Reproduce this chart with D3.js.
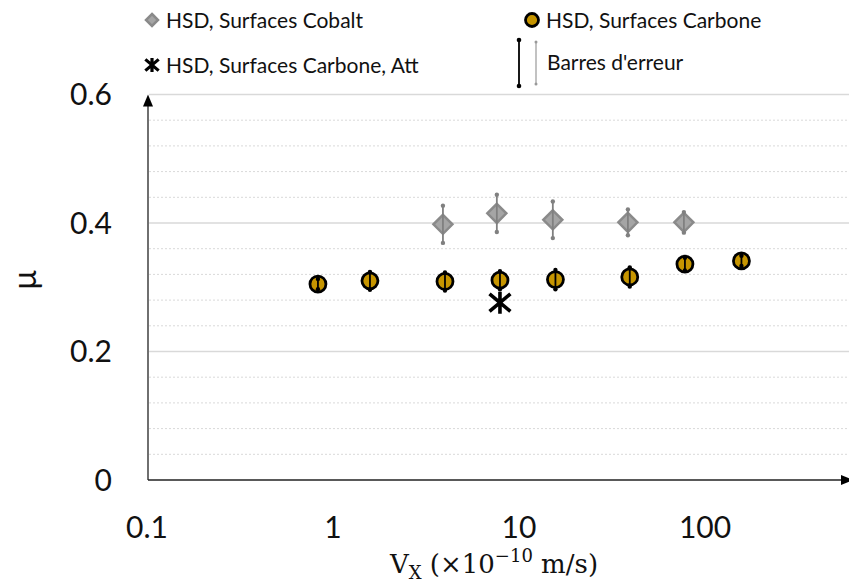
<!DOCTYPE html>
<html><head><meta charset="utf-8">
<script src="https://cdn.jsdelivr.net/npm/d3@7"></script>
<style>body{margin:0;background:#fff}svg{display:block}</style>
</head><body><svg id="c" width="849" height="585"></svg>
<script>
// ---- data ----
const carboneV   = [0.83, 1.58, 4.0, 7.9, 15.7, 39.4, 78, 157];
const carboneMu  = [0.305, 0.310, 0.309, 0.311, 0.312, 0.316, 0.336, 0.341];
const carboneErr = [0.008, 0.014, 0.014, 0.014, 0.015, 0.015, 0.010, 0.008];
const cobaltV    = [3.9, 7.6, 15.2, 38.5, 77];
const cobaltMu   = [0.398, 0.415, 0.405, 0.401, 0.401];
const cobaltErr  = [0.029, 0.029, 0.0285, 0.020, 0.016];
const attV  = [7.9];
const attMu = [0.276];
const xTickValues = [0.1, 1, 10, 100];
const xTickLabels = ["0.1", "1", "10", "100"];
const yTickValues = [0, 0.2, 0.4, 0.6];
const yTickLabels = ["0", "0.2", "0.4", "0.6"];
const yMinorValues = d3.range(0.04, 0.6, 0.04).filter(v => Math.abs(v/0.2 - Math.round(v/0.2)) > 1e-6);
const legendLabels = ["HSD, Surfaces Cobalt", "HSD, Surfaces Carbone", "HSD, Surfaces Carbone, Att", "Barres d'erreur"];

// ---- layout ----
const svg = d3.select("#c");
const x = d3.scaleLog().domain([0.1, 1000]).range([147, 891]);
const y = d3.scaleLinear().domain([0, 0.6]).range([480, 94.5]);
const font = "Lato, 'Open Sans', sans-serif";
const gold = "#c69500";

// gridlines
svg.append("g").selectAll("line").data(yMinorValues).join("line")
  .attr("x1", 149).attr("x2", 849).attr("y1", d => y(d)).attr("y2", d => y(d))
  .attr("stroke", "#d9d9d9").attr("stroke-width", 1).attr("stroke-dasharray", "2,2");
svg.append("g").selectAll("line").data(yTickValues.filter(d => d > 0)).join("line")
  .attr("x1", 149).attr("x2", 849).attr("y1", d => y(d)).attr("y2", d => y(d))
  .attr("stroke", "#d9d9d9").attr("stroke-width", 1.5);

// axes
const axisColor = "#222";
svg.append("line").attr("x1", 148).attr("x2", 148).attr("y1", y(0)).attr("y2", y(0.6) + 8)
  .attr("stroke", axisColor).attr("stroke-width", 1.3);
svg.append("path").attr("d", `M148,${y(0.6)} L143,${y(0.6)+12} L153,${y(0.6)+12} Z`).attr("fill", "#000");
svg.append("line").attr("x1", 148).attr("x2", 845).attr("y1", y(0)).attr("y2", y(0))
  .attr("stroke", axisColor).attr("stroke-width", 1.3);
svg.append("path").attr("d", `M853,${y(0)} L841,${y(0)-5} L841,${y(0)+5} Z`).attr("fill", "#000");

// tick labels
svg.append("g").selectAll("text").data(yTickValues).join("text")
  .attr("x", 112).attr("y", d => y(d)).attr("dy", "0.36em").attr("text-anchor", "end")
  .attr("font-family", font).attr("font-size", 30).attr("fill", "#111")
  .text((d, i) => yTickLabels[i]);
svg.append("g").selectAll("text").data(xTickValues).join("text")
  .attr("x", d => x(d)).attr("y", 538).attr("text-anchor", "middle")
  .attr("font-family", font).attr("font-size", 30).attr("fill", "#111")
  .text((d, i) => xTickLabels[i]);

// axis titles
svg.append("text").attr("transform", "translate(36,280) rotate(-90)").attr("text-anchor", "middle")
  .attr("font-family", font).attr("font-size", 32).attr("fill", "#111").text("μ");
const xt = svg.append("text").attr("x", 494).attr("y", 573).attr("text-anchor", "middle")
  .attr("font-family", "'DejaVu Serif', 'Liberation Serif', serif").attr("font-size", 26).attr("fill", "#111");
xt.append("tspan").text("V");
xt.append("tspan").attr("font-size", 18).attr("dy", 6).text("X");
xt.append("tspan").attr("dy", -6).text(" (×10");
xt.append("tspan").attr("font-size", 18).attr("dy", -11).text("−10");
xt.append("tspan").attr("dy", 11).text(" m/s)");

// marker helpers
function diamond(g, cx, cy, r) {
  g.append("path").attr("d", `M${cx},${cy-r} L${cx+r},${cy} L${cx},${cy+r} L${cx-r},${cy} Z`)
    .attr("fill", "#a5a5a5").attr("stroke", "#8a8a8a").attr("stroke-width", 2.5);
}
function circ(g, cx, cy, r) {
  g.append("circle").attr("cx", cx).attr("cy", cy).attr("r", r)
    .attr("fill", gold).attr("stroke", "#000").attr("stroke-width", 2.8);
}
function star(g, cx, cy, r, w) {
  g.append("path").attr("d", `M${cx-r*0.95},${cy-r*0.8} L${cx+r*0.95},${cy+r*0.8} M${cx-r*0.95},${cy+r*0.8} L${cx+r*0.95},${cy-r*0.8} M${cx},${cy-r} L${cx},${cy+r}`)
    .attr("stroke", "#000").attr("stroke-width", w).attr("fill", "none");
}
function errBar(g, cx, y1, y2, color, w, dotR) {
  g.append("line").attr("x1", cx).attr("x2", cx).attr("y1", y1).attr("y2", y2)
    .attr("stroke", color).attr("stroke-width", w);
  g.append("circle").attr("cx", cx).attr("cy", y1).attr("r", dotR).attr("fill", color);
  g.append("circle").attr("cx", cx).attr("cy", y2).attr("r", dotR).attr("fill", color);
}

// series
const gm = svg.append("g");
cobaltV.forEach((v, i) => diamond(gm, x(v), y(cobaltMu[i]), 9.5));
cobaltV.forEach((v, i) => errBar(gm, x(v), y(cobaltMu[i] + cobaltErr[i]), y(cobaltMu[i] - cobaltErr[i]), "#808080", 1.8, 2.2));
carboneV.forEach((v, i) => circ(gm, x(v), y(carboneMu[i]), 8));
carboneV.forEach((v, i) => errBar(gm, x(v), y(carboneMu[i] + carboneErr[i]), y(carboneMu[i] - carboneErr[i]), "#000", 1.8, 2.2));
attV.forEach((v, i) => star(gm, x(v), y(attMu[i]), 11, 3.6));

// legend
const lg = svg.append("g").attr("font-family", font).attr("font-size", 21).attr("fill", "#111");
diamond(lg, 152, 20, 6);
lg.append("text").attr("x", 166).attr("y", 20).attr("dy", "0.36em").text(legendLabels[0]);
circ(lg, 532, 20, 6.5);
lg.append("text").attr("x", 546).attr("y", 20).attr("dy", "0.36em").text(legendLabels[1]);
star(lg, 152, 65, 7, 3.2);
lg.append("text").attr("x", 166).attr("y", 65).attr("dy", "0.36em").text(legendLabels[2]);
errBar(lg, 519, 40, 86, "#000", 1.8, 2.3);
errBar(lg, 536, 42, 84, "#999", 1.2, 1.5);
lg.append("text").attr("x", 547).attr("y", 62).attr("dy", "0.36em").text(legendLabels[3]);
</script></body></html>
